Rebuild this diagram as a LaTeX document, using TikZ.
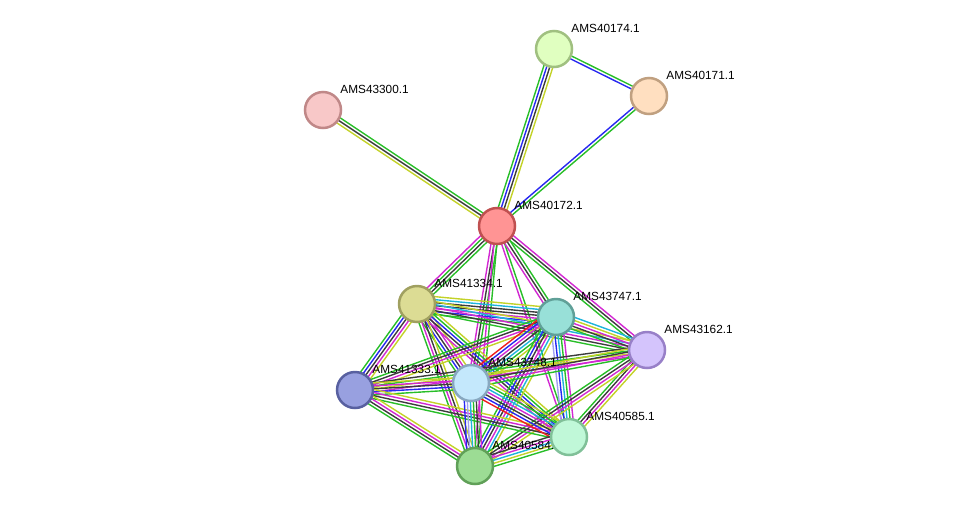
\documentclass[tikz,border=0pt]{standalone}
\usepackage{fontspec}
\setmainfont{Liberation Sans}
\usetikzlibrary{calc}
\pgfdeclarelayer{background}
\pgfsetlayers{background,main}

\definecolor{sgreen}{RGB}{40,190,40}
\definecolor{syellow}{RGB}{195,210,40}
\definecolor{sblack}{RGB}{60,60,60}
\definecolor{smag}{RGB}{210,40,210}
\definecolor{scyan}{RGB}{30,180,220}
\definecolor{sblue}{RGB}{40,40,240}
\definecolor{sred}{RGB}{240,30,30}
\definecolor{slav}{RGB}{160,160,240}

\tikzset{
  prot/.style={circle, minimum size=36pt, inner sep=0pt, line width=2.5pt},
  lbl/.style={xshift=-2pt, yshift=21pt, inner sep=0pt},
}

% one evidence line per colour, side by side
\newcommand{\link}[3]{%
  \foreach \c [count=\n] in {#3} {\xdef\ncol{\n}}
  \foreach \c [count=\i] in {#3} {
    \pgfmathsetmacro\off{(\i-(\ncol+1)/2)*3}
    \draw[\c, line width=1.4pt] ($(#1.center)!\off pt!90:(#2.center)$) -- ($(#2.center)!\off pt!-90:(#1.center)$);
  }}

\begin{document}
\begin{tikzpicture}[x=1pt,y=-1pt,font=\fontsize{11.8}{14}\selectfont]
    \useasboundingbox (0,0) rectangle (976,512);
    % proteins
    \node[prot, fill={rgb,255:red,224;green,255;blue,192}, draw={rgb,255:red,160;green,192;blue,128}, label={[lbl]0:AMS40174.1}] (p40174) at (554,49) {};
    \node[prot, fill={rgb,255:red,255;green,223;blue,192}, draw={rgb,255:red,192;green,160;blue,128}, label={[lbl]0:AMS40171.1}] (p40171) at (649,96) {};
    \node[prot, fill={rgb,255:red,248;green,200;blue,200}, draw={rgb,255:red,192;green,136;blue,136}, label={[lbl]0:AMS43300.1}] (p43300) at (323,110) {};
    \node[prot, fill={rgb,255:red,255;green,148;blue,148}, draw={rgb,255:red,192;green,80;blue,80}, label={[lbl]0:AMS40172.1}] (p40172) at (497,226) {};
    \node[prot, fill={rgb,255:red,220;green,220;blue,148}, draw={rgb,255:red,160;green,160;blue,96}, label={[lbl]0:AMS41334.1}] (p41334) at (417,304) {};
    \node[prot, fill={rgb,255:red,152;green,224;blue,216}, draw={rgb,255:red,96;green,160;blue,152}, label={[lbl]0:AMS43747.1}] (p43747) at (556,317) {};
    \node[prot, fill={rgb,255:red,212;green,196;blue,252}, draw={rgb,255:red,152;green,128;blue,200}, label={[lbl]0:AMS43162.1}] (p43162) at (647,350) {};
    \node[prot, fill={rgb,255:red,152;green,160;blue,224}, draw={rgb,255:red,88;green,96;blue,160}, label={[lbl]0:AMS41333.1}] (p41333) at (355,390) {};
    \node[prot, fill={rgb,255:red,196;green,232;blue,252}, draw={rgb,255:red,136;green,168;blue,192}, label={[lbl]0:AMS43748.1}] (p43748) at (471,383) {};
    \node[prot, fill={rgb,255:red,156;green,220;blue,148}, draw={rgb,255:red,96;green,160;blue,88}, label={[lbl]0:AMS40584.1}] (p40584) at (475,466) {};
    \node[prot, fill={rgb,255:red,192;green,248;blue,216}, draw={rgb,255:red,128;green,192;blue,152}, label={[lbl]0:AMS40585.1}] (p40585) at (569,437) {};

    \begin{pgfonlayer}{background}
    \link{p40174}{p40172}{sgreen,sblue,sblack,syellow}
    \link{p40174}{p40171}{sblue,sgreen}
    \link{p40171}{p40172}{sblue,sgreen}
    \link{p43300}{p40172}{syellow,sblack,sgreen}
    \link{p40172}{p41334}{smag,sgreen,sblack,sgreen}
    \link{p40172}{p43748}{smag,sblack,sgreen}
    \link{p40172}{p40584}{smag,sgreen}
    \link{p40172}{p40585}{smag,sgreen}
    \link{p40172}{p43747}{smag,sblack,sgreen}
    \link{p40172}{p43162}{sgreen,sblack,smag}
    % cluster
    \link{p41334}{p43747}{sgreen,sblue,smag,sblack,sblack,scyan,syellow}
    \link{p41334}{p43162}{sgreen,sblack,smag,scyan,syellow}
    \link{p41334}{p41333}{sgreen,sblue,sblack,smag,syellow}
    \link{p41334}{p43748}{sgreen,sblue,sblack,smag,syellow}
    \link{p41334}{p40585}{smag,sblack,sblue,sgreen,syellow}
    \link{p41334}{p40584}{sgreen,smag,sblack,syellow}
    \link{p43747}{p43162}{sgreen,sblack,smag,syellow,scyan}
    \link{p43747}{p41333}{sgreen,sblack,smag,syellow}
    \link{p43747}{p43748}{sred,sblue,smag,sblack,scyan,sgreen,syellow}
    \link{p43747}{p40585}{slav,sblue,scyan,sgreen,smag}
    \link{p43747}{p40584}{sgreen,sblue,sblack,smag,scyan,syellow}
    \link{p43162}{p41333}{sblack,sgreen,syellow,smag}
    \link{p43162}{p43748}{syellow,sblack,smag,sgreen}
    \link{p43162}{p40585}{sgreen,sblack,smag,syellow}
    \link{p43162}{p40584}{sgreen,sblack,smag,syellow}
    \link{p41333}{p43748}{sgreen,sblue,sblack,smag,syellow}
    \link{p41333}{p40585}{sgreen,sblack,smag,syellow}
    \link{p41333}{p40584}{sgreen,sblack,smag,syellow}
    \link{p43748}{p40585}{sred,sblue,sblack,smag,scyan,sgreen,syellow}
    \link{p43748}{p40584}{sblue,slav,scyan,sgreen,sblack,smag}
    \link{p40585}{p40584}{sblack,smag,scyan,syellow,sgreen}
    \end{pgfonlayer}
\end{tikzpicture}
\end{document}
